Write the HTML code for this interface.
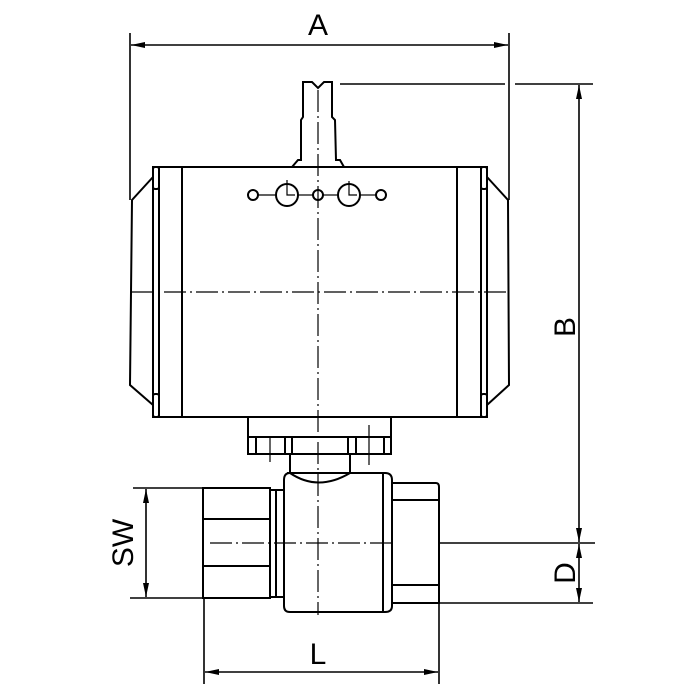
<!DOCTYPE html>
<html><head><style>body{margin:0;background:#fff}svg{display:block}</style></head>
<body>
<svg width="700" height="700" viewBox="0 0 700 700" xmlns="http://www.w3.org/2000/svg">
<defs>
<marker id="ar" markerWidth="14" markerHeight="8" refX="14" refY="4" orient="auto-start-reverse" markerUnits="userSpaceOnUse"><path d="M0,1 L14,4 L0,7 Z" fill="#000"/></marker>
</defs>
<g fill="none" stroke="#000" stroke-width="2">
<rect x="153" y="167" width="334" height="250" fill="#fff"/>
<line x1="159" y1="167" x2="159" y2="417"/>
<line x1="182" y1="167" x2="182" y2="417"/>
<line x1="457" y1="167" x2="457" y2="417"/>
<line x1="481" y1="167" x2="481" y2="417"/>
<path d="M153,177 L132,200 L130,385 L153,405"/>
<path d="M487,177 L508,200 L509,385 L487,405"/>
<rect x="153" y="167" width="6" height="22" rx="2"/>
<rect x="153" y="394" width="6" height="23" rx="2"/>
<rect x="481" y="167" width="6" height="22" rx="2"/>
<rect x="481" y="394" width="6" height="23" rx="2"/>
<path d="M292,167 L298,160 L301,160 L301,120 L303,117 L303,82 L312,82 L318,88 L324,82 L332,82 L332,117 L335,120 L336,160 L340,160 L344,167"/>
<circle cx="253" cy="195" r="5"/>
<circle cx="318" cy="195" r="5"/>
<circle cx="381" cy="195" r="5"/>
<circle cx="287" cy="195" r="11"/>
<circle cx="349" cy="195" r="11"/>
<path d="M287,180 L287,195 L295,195 M349,181 L349,195 L357,195" stroke-width="1.2"/>
<line x1="258" y1="195" x2="276" y2="195" stroke-width="1.2"/>
<line x1="298" y1="195" x2="313" y2="195" stroke-width="1.2"/>
<line x1="323" y1="195" x2="338" y2="195" stroke-width="1.2"/>
<line x1="360" y1="195" x2="376" y2="195" stroke-width="1.2"/>
<rect x="248" y="417" width="143" height="20"/>
<rect x="248" y="437" width="44" height="17"/>
<rect x="348" y="437" width="43" height="17"/>
<line x1="256" y1="437" x2="256" y2="454"/><line x1="285" y1="437" x2="285" y2="454"/>
<line x1="356" y1="437" x2="356" y2="454"/><line x1="384" y1="437" x2="384" y2="454"/>
<line x1="292" y1="454" x2="348" y2="454"/>
<line x1="270" y1="437" x2="270" y2="462" stroke-width="1.2"/>
<line x1="369" y1="425" x2="369" y2="465" stroke-width="1.2"/>
<path d="M290,454 L290,472 M350,454 L350,472"/>
<path d="M287,473 L385,473 Q392,473 392,480 L392,606 Q392,612 385,612 L290,612 Q284,612 284,606 L284,480 Q284,473 290,473 Z"/>
<path d="M290,473 Q318,492 350,473"/>
<line x1="383" y1="474" x2="383" y2="611"/>
<rect x="203" y="488" width="67" height="110"/>
<line x1="203" y1="519" x2="270" y2="519"/>
<line x1="203" y1="566" x2="270" y2="566"/>
<path d="M270,490 L284,490 M270,597 L284,597 M276,490 L276,597"/>
<path d="M392,483 L436,483 Q439,483 439,487 L439,603 L392,603"/>
<line x1="392" y1="500" x2="439" y2="500"/>
<line x1="392" y1="585" x2="439" y2="585"/>
</g>
<g stroke="#000" stroke-width="1.2" fill="none" stroke-dasharray="22,4,2,4">
<line x1="318" y1="90" x2="318" y2="615"/>
<line x1="132" y1="292" x2="508" y2="292"/>
<line x1="210" y1="543" x2="392" y2="543"/>
</g>
<g stroke="#000" stroke-width="1.6" fill="none">
<line x1="130" y1="33" x2="130" y2="200"/>
<line x1="509" y1="33" x2="509" y2="200"/>
<line x1="131" y1="45" x2="508" y2="45" marker-start="url(#ar)" marker-end="url(#ar)"/>
<line x1="340" y1="84" x2="505" y2="84"/>
<line x1="515" y1="84" x2="593" y2="84"/>
<line x1="579" y1="85" x2="579" y2="542" marker-start="url(#ar)" marker-end="url(#ar)"/>
<line x1="439" y1="543" x2="595" y2="543"/>
<line x1="439" y1="603" x2="593" y2="603"/>
<line x1="579" y1="544" x2="579" y2="602" marker-start="url(#ar)" marker-end="url(#ar)"/>
<line x1="133" y1="488" x2="203" y2="488"/>
<line x1="130" y1="598" x2="203" y2="598"/>
<line x1="146" y1="489" x2="146" y2="597" marker-start="url(#ar)" marker-end="url(#ar)"/>
<line x1="204" y1="598" x2="204" y2="684"/>
<line x1="439" y1="603" x2="439" y2="684"/>
<line x1="205" y1="672" x2="438" y2="672" marker-start="url(#ar)" marker-end="url(#ar)"/>
</g>
<g font-family="Liberation Sans, sans-serif" font-size="30" fill="#000" text-anchor="middle">
<text x="318" y="35">A</text>
<text x="318" y="664">L</text>
<text transform="translate(575,327) rotate(-90)">B</text>
<text transform="translate(575,573) rotate(-90)">D</text>
<text transform="translate(133,543) rotate(-90)">SW</text>
</g>
</svg>
</body></html>
